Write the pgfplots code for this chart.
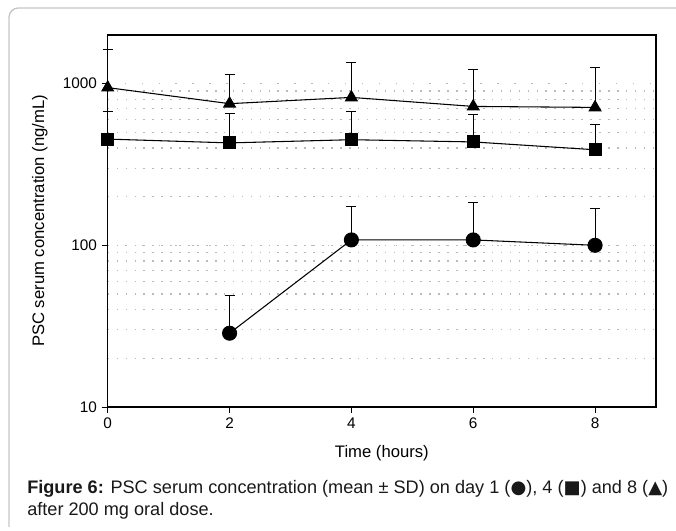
\documentclass[border=0pt]{standalone}
\usepackage{fontspec}
\setmainfont{Liberation Sans}
\newfontfamily\sym{DejaVu Sans}
\usepackage{pgfplots}
\pgfplotsset{compat=1.18}

\begin{document}
\begin{tikzpicture}
\useasboundingbox (0,0) rectangle (507pt,398.25pt);
% light rounded frame (top and left only)
\draw[gray!45, line width=1pt, rounded corners=7pt]
  (6.75pt,3pt) -- (6.75pt,392.25pt) -- (507pt,392.25pt);

\begin{axis}[
    at={(80.8pt,93pt)}, anchor=south west,
    scale only axis,
    width=411.2pt, height=279pt,
    ymode=log,
    xmin=0, xmax=9, ymin=10, ymax=2000,
    xtick={0,2,4,6,8},
    ytick={10,100,1000},
    yticklabels={10,100,1000},
    tick align=outside,
    major tick length=4.5pt,
    minor tick length=0pt,
    xtick pos=bottom, ytick pos=left,
    axis line style={line width=0.8pt},
    every tick/.style={black, line width=0.6pt},
    /pgf/number format/assume math mode=true,
    tick label style={font=\fontsize{11.5}{13}\selectfont},
    label style={font=\fontsize{12.5}{14}\selectfont},
    xlabel={Time (hours)},
    ylabel={PSC serum concentration (ng/mL)},
    xlabel style={at={(axis description cs:0.5,0)}, anchor=center, yshift=-34.5pt},
    ylabel style={at={(axis description cs:-0.124,0.5)}, anchor=center},
    ymajorgrids, yminorgrids,
    major grid style={gray!55, line width=0.9pt, dash pattern=on 1.2pt off 11.5pt},
    minor grid style={gray!55, line width=0.9pt, dash pattern=on 1.2pt off 5.5pt},
    clip=false,
    error bars/y dir=plus,
    error bars/y explicit,
    error bars/error mark options={rotate=90, black, mark size=3.75pt, line width=0.8pt},
    error bars/error bar style={black, line width=0.8pt},
]
% day 8
\addplot[black, line width=0.8pt, mark=triangle*, mark size=5pt, mark options={solid, fill=black}]
  coordinates {(0,945) +- (0,685) (2,752) +- (0,385) (4,822) +- (0,533) (6,723) +- (0,504) (8,713) +- (0,549)};
% day 4
\addplot[black, line width=0.8pt, mark=square*, mark size=4.5pt, mark options={solid, fill=black}]
  coordinates {(0,454) +- (0,219) (2,430) +- (0,222) (4,450) +- (0,220) (6,436) +- (0,207) (8,390) +- (0,167)};
% day 1
\addplot[black, line width=0.8pt, mark=*, mark size=5.25pt, mark options={solid, fill=black}]
  coordinates {(2,28.6) +- (0,20.6) (4,108) +- (0,65) (6,108) +- (0,75) (8,100) +- (0,68)};
\end{axis}

\node[anchor=base west, inner sep=0pt, font=\fontsize{13.6}{15}\selectfont, text=black!90]
  at (20.25pt,27.75pt) {\textbf{Figure 6:} PSC serum concentration (mean ± SD) on day 1 ({\sym ●}), 4 ({\sym ■}) and 8 ({\sym ▲})};
\node[anchor=base west, inner sep=0pt, font=\fontsize{13.6}{15}\selectfont, text=black!90]
  at (20.25pt,11.25pt) {after 200 mg oral dose.};
\end{tikzpicture}
\end{document}
